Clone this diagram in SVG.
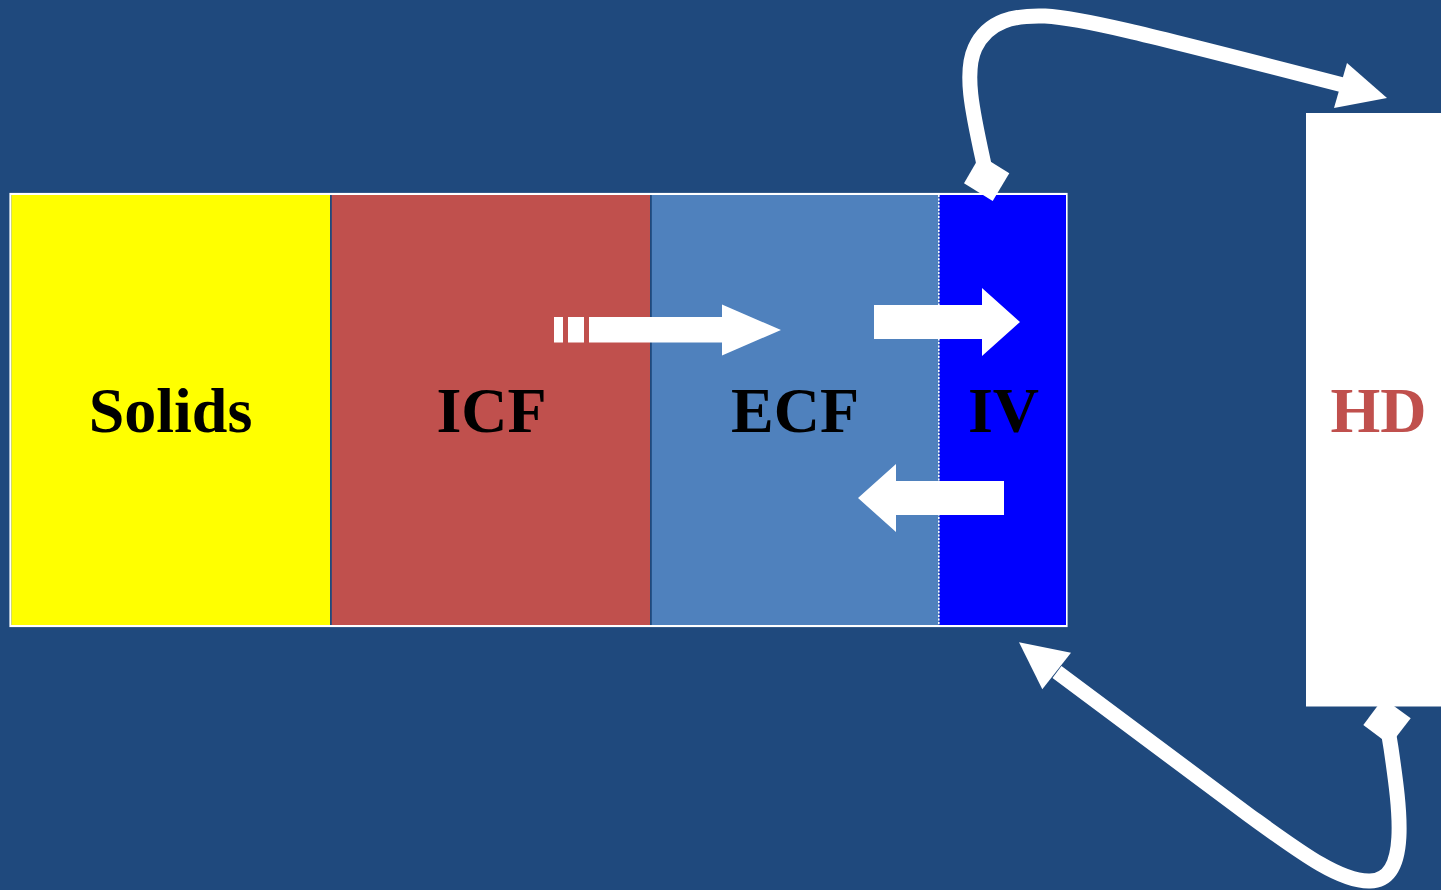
<svg xmlns="http://www.w3.org/2000/svg" width="1441" height="890" viewBox="0 0 1441 890">
<style>
.lbl{font-family:"Liberation Serif","Times New Roman",serif;font-weight:bold;font-size:64px;text-anchor:middle}
.arr{fill:#FFFFFF}
.conn{fill:none;stroke:#FFFFFF;stroke-width:15}
</style>
<rect width="1441" height="890" fill="#1F497D"/>
<g id="frame">
<rect x="10.5" y="194" width="1056" height="432" fill="none" stroke="#FFFFFF" stroke-width="2.2"/>
</g>
<g id="solids">
<rect x="11.5" y="195" width="319" height="430" fill="#FFFF00"/>
<text class="lbl" x="170.5" y="432" fill="#000000">Solids</text>
</g>
<g id="icf">
<rect x="331.5" y="195" width="319" height="430" fill="#C0504D"/>
<text class="lbl" x="491.5" y="432" fill="#000000">ICF</text>
</g>
<g id="ecf">
<rect x="651.5" y="195" width="288" height="430" fill="#4F81BD"/>
<text class="lbl" x="795" y="432" fill="#000000">ECF</text>
</g>
<g id="iv">
<rect x="939.5" y="195" width="126.5" height="430" fill="#0000FF"/>
<text class="lbl" x="1003.5" y="432" fill="#000000">IV</text>
</g>
<g id="dividers">
<line x1="330.8" y1="195" x2="330.8" y2="625" stroke="#1F497D" stroke-width="1.6"/>
<line x1="650.8" y1="195" x2="650.8" y2="625" stroke="#1F497D" stroke-width="1.6"/>
<line x1="938.8" y1="195" x2="938.8" y2="625" stroke="#FFFFFF" stroke-width="1.5" stroke-dasharray="2 1.5"/>
</g>
<g id="hd">
<rect x="1306" y="113" width="140" height="593.5" fill="#FFFFFF"/>
<text class="lbl" x="1378.5" y="432" fill="#C0504D">HD</text>
</g>
<g id="connectors">
<rect class="arr" x="554" y="317" width="9" height="25.5"/>
<rect class="arr" x="568" y="317" width="16" height="25.5"/>
<polygon class="arr" points="589,317 722,317 722,304.5 781,330 722,355.5 722,342.5 589,342.5"/>
<polygon class="arr" points="874,305 982,305 982,288 1020,322 982,356 982,339 874,339"/>
<polygon class="arr" points="1004,481 896,481 896,464 858,498 896,532 896,515 1004,515"/>
<path class="conn" d="M 986.5 178 L 983 160 C 972 110 964 72 975 48 C 988 20 1015 15 1045 16 C 1080 18 1130 30 1343 85"/>
<polygon class="arr" points="1347,63 1387,98 1334,108"/>
<polygon class="arr" points="964,183.3 980.3,155.3 1009.3,173.3 992.7,201"/>
<path class="conn" d="M 1386.7 721.7 L 1391 748 C 1400 810 1410 880 1370 881 C 1340 882 1300 852 1250 816 L 1057 672"/>
<polygon class="arr" points="1019,642.3 1071,652.7 1042.3,689.3"/>
<polygon class="arr" points="1363.3,725 1383.3,698.3 1410.7,718.3 1390,745"/>
</g>
</svg>
